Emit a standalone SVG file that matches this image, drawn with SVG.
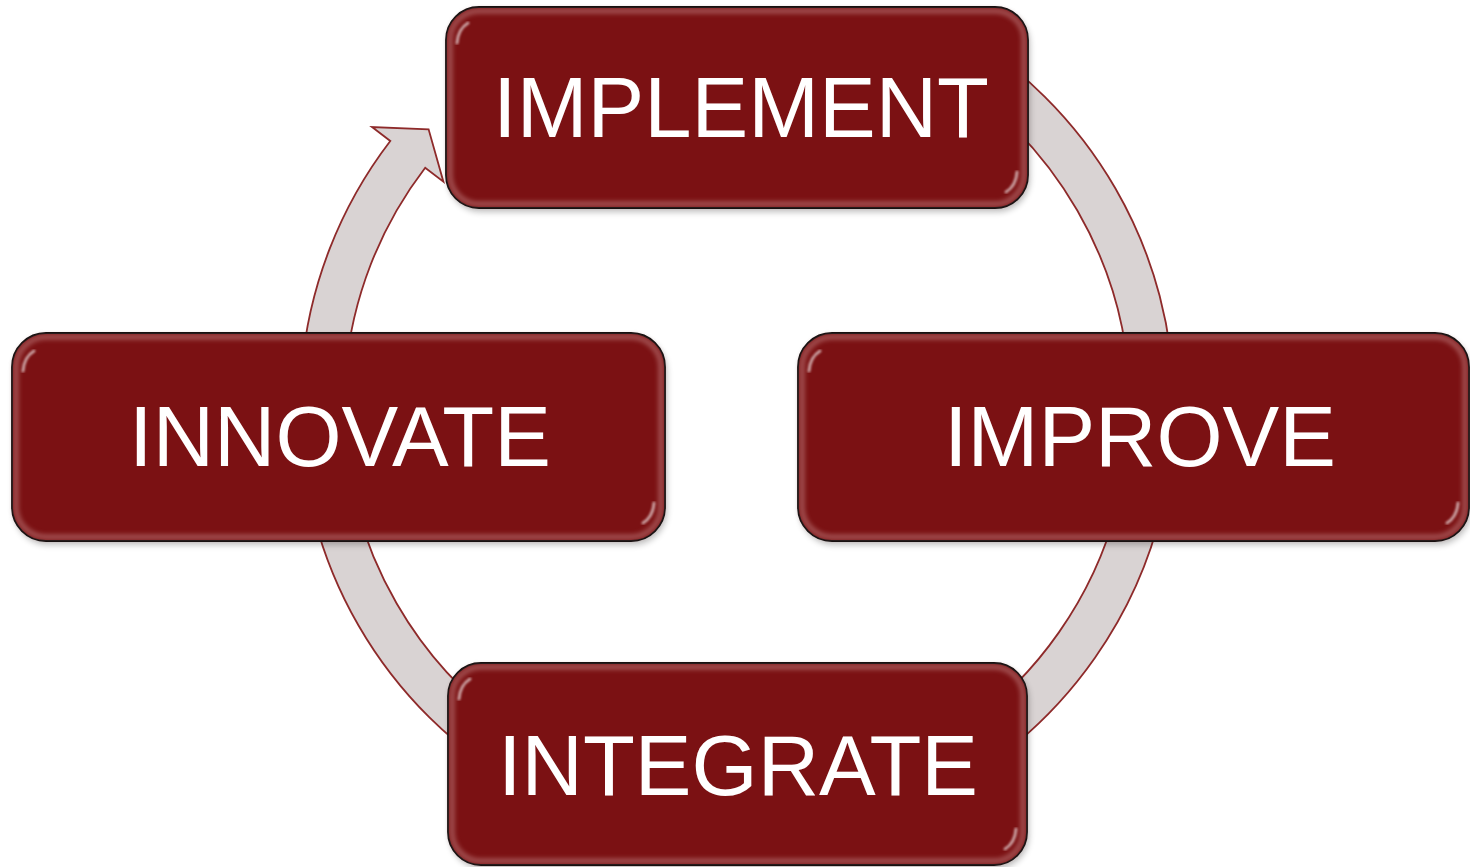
<svg xmlns="http://www.w3.org/2000/svg" width="1470" height="867" viewBox="0 0 1470 867">
<style>
.ring{fill:#D9D3D3;stroke:#8E2A2A;stroke-width:1.8;stroke-linejoin:miter}
.box{fill:#7B1113;stroke:#000;stroke-width:1.8}
.shadow{fill:#000;opacity:0.25}
.band{fill:none;stroke:#C08080;stroke-width:6;opacity:0.5}
.hl{stroke:#F2B4B4;stroke-width:2.2;stroke-linecap:round;opacity:0.85}
.glint{fill:none;stroke:#FFFFFF;stroke-width:3;stroke-linecap:round;opacity:0.6}
.lbl{font-family:"Liberation Sans",Arial,sans-serif;font-size:85px;fill:#FFFFFF;text-anchor:middle}
</style>
<defs>
<filter id="sh" x="-10%" y="-10%" width="120%" height="130%"><feGaussianBlur stdDeviation="3"/></filter>
<filter id="bl" x="-10%" y="-10%" width="120%" height="120%"><feGaussianBlur stdDeviation="2"/></filter>
<filter id="bl1" x="-50%" y="-10%" width="200%" height="120%"><feGaussianBlur stdDeviation="0.8"/></filter>
</defs>

<g id="connectors">
<!-- IMPLEMENT to IMPROVE: 300deg to 360deg -->
<path class="ring" d="M 955.5 28.5 A 437 437 0 0 1 1174 407 L 1130 407 A 393 393 0 0 0 933.5 66.7 Z"/>
<!-- IMPROVE to INTEGRATE: 10deg to 60deg -->
<path class="ring" d="M 1167.4 482.9 A 437 437 0 0 1 955.5 785.5 L 933.5 747.3 A 393 393 0 0 0 1124.0 475.2 Z"/>
<!-- INTEGRATE to INNOVATE: 120deg to 180deg -->
<path class="ring" d="M 518.5 785.5 A 437 437 0 0 1 300 407 L 344 407 A 393 393 0 0 0 540.5 747.3 Z"/>
<!-- INNOVATE to IMPLEMENT: 185deg to arrowhead -->
<path class="ring" d="M 301.7 368.9 A 437 437 0 0 1 390.3 141.0 L 372 127 L 428.6 129.3 L 443.4 181.7 L 425.2 167.7 A 393 393 0 0 0 345.5 372.7 Z"/>
</g>

<g id="node-implement" transform="translate(446,7)">
<rect class="shadow" x="2" y="4" width="582" height="201" rx="33" filter="url(#sh)"/>
<rect class="box" x="0" y="0" width="582" height="201" rx="33"/>
<rect class="band" x="4" y="4" width="574" height="193" rx="29" filter="url(#bl)"/>
<line class="hl" x1="10" y1="34" x2="10" y2="167" filter="url(#bl1)"/>
<line class="hl" x1="572" y1="34" x2="572" y2="167" filter="url(#bl1)"/>
<path class="glint" d="M 11 36 Q 12 22 22 16" filter="url(#bl1)"/>
<path class="glint" d="M 571 165 Q 570 179 560 185" filter="url(#bl1)"/>
<text class="lbl" x="295" y="130">IMPLEMENT</text>
</g>

<g id="node-innovate" transform="translate(12,333)">
<rect class="shadow" x="2" y="4" width="653" height="208" rx="34" filter="url(#sh)"/>
<rect class="box" x="0" y="0" width="653" height="208" rx="34"/>
<rect class="band" x="4" y="4" width="645" height="200" rx="30" filter="url(#bl)"/>
<line class="hl" x1="10" y1="36" x2="10" y2="172" filter="url(#bl1)"/>
<line class="hl" x1="643" y1="36" x2="643" y2="172" filter="url(#bl1)"/>
<path class="glint" d="M 11 38 Q 12 24 22 18" filter="url(#bl1)"/>
<path class="glint" d="M 642 170 Q 641 184 631 190" filter="url(#bl1)"/>
<text class="lbl" x="328" y="133">INNOVATE</text>
</g>

<g id="node-improve" transform="translate(798,333)">
<rect class="shadow" x="2" y="4" width="671" height="208" rx="34" filter="url(#sh)"/>
<rect class="box" x="0" y="0" width="671" height="208" rx="34"/>
<rect class="band" x="4" y="4" width="663" height="200" rx="30" filter="url(#bl)"/>
<line class="hl" x1="10" y1="36" x2="10" y2="172" filter="url(#bl1)"/>
<line class="hl" x1="661" y1="36" x2="661" y2="172" filter="url(#bl1)"/>
<path class="glint" d="M 11 38 Q 12 24 22 18" filter="url(#bl1)"/>
<path class="glint" d="M 660 170 Q 659 184 649 190" filter="url(#bl1)"/>
<text class="lbl" x="342" y="133">IMPROVE</text>
</g>

<g id="node-integrate" transform="translate(448,663)">
<rect class="shadow" x="2" y="4" width="579" height="202" rx="33" filter="url(#sh)"/>
<rect class="box" x="0" y="0" width="579" height="202" rx="33"/>
<rect class="band" x="4" y="4" width="571" height="194" rx="29" filter="url(#bl)"/>
<line class="hl" x1="10" y1="34" x2="10" y2="168" filter="url(#bl1)"/>
<line class="hl" x1="569" y1="34" x2="569" y2="168" filter="url(#bl1)"/>
<path class="glint" d="M 11 36 Q 12 22 22 16" filter="url(#bl1)"/>
<path class="glint" d="M 568 166 Q 567 180 557 186" filter="url(#bl1)"/>
<text class="lbl" x="290" y="132">INTEGRATE</text>
</g>
</svg>
